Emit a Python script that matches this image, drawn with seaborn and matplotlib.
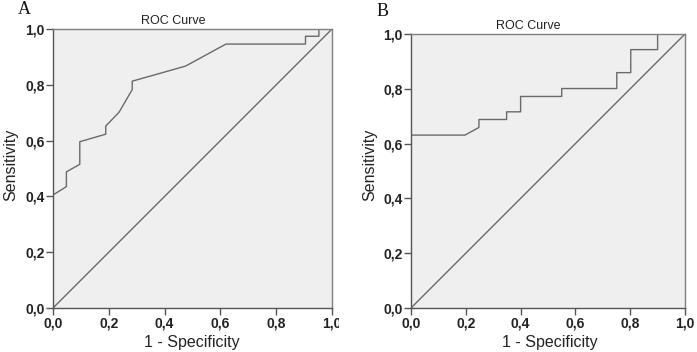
import matplotlib
matplotlib.use("Agg")
import matplotlib.pyplot as plt
import seaborn as sns
import pandas as pd
from matplotlib.patches import Rectangle

# Panel A ROC curve
a_fpr  = [0.0, 0.048, 0.048, 0.096, 0.096, 0.189, 0.189, 0.237, 0.284, 0.284, 0.475, 0.620, 0.905, 0.905, 0.953, 0.953, 1.0]
a_tpr  = [0.405, 0.435, 0.488, 0.515, 0.596, 0.623, 0.652, 0.702, 0.783, 0.813, 0.867, 0.946, 0.946, 0.974, 0.974, 1.0, 1.0]
# Panel B ROC curve
b_fpr  = [0.0, 0.197, 0.248, 0.248, 0.349, 0.349, 0.400, 0.400, 0.550, 0.550, 0.751, 0.751, 0.802, 0.802, 0.900, 0.900, 1.0]
b_tpr  = [0.631, 0.631, 0.659, 0.688, 0.688, 0.716, 0.716, 0.772, 0.772, 0.801, 0.801, 0.859, 0.859, 0.943, 0.943, 1.0, 1.0]
ref_x = [0.0, 1.0]
ref_y = [0.0, 1.0]
ticks = [0.0, 0.2, 0.4, 0.6, 0.8, 1.0]
tick_labels = ["0,0", "0,2", "0,4", "0,6", "0,8", "1,0"]
panel_letters = ["A", "B"]
title = "ROC Curve"
xlabel = "1 - Specificity"
ylabel = "Sensitivity"

sns.set_theme(style="white")
plt.rcParams['font.family'] = ['Liberation Sans', 'DejaVu Sans']

W, H = 697, 352
fig = plt.figure(figsize=(W / 100, H / 100), dpi=100)

def px_axes(l, r, t, b):
    return fig.add_axes([l / W, 1 - b / H, (r - l) / W, (b - t) / H])

axA = px_axes(53, 332, 29, 308)
axB = px_axes(411, 685, 34, 308)

line_col = "#6a6a6a"
for ax, fx, ty in [(axA, a_fpr, a_tpr), (axB, b_fpr, b_tpr)]:
    ax.set_facecolor("#efefef")
    df = pd.DataFrame({"fpr": fx, "tpr": ty})
    sns.lineplot(data=df, x="fpr", y="tpr", sort=False, estimator=None,
                 color=line_col, linewidth=1.0, ax=ax)
    dref = pd.DataFrame({"x": ref_x, "y": ref_y})
    sns.lineplot(data=dref, x="x", y="y", sort=False, estimator=None,
                 color=line_col, linewidth=1.0, ax=ax)
    ax.set_xlim(0, 1)
    ax.set_ylim(0, 1)
    ax.set_xticks(ticks)
    ax.set_yticks(ticks)
    ax.set_xticklabels(tick_labels, fontweight="bold", fontsize=10, color="#222222")
    ax.set_yticklabels(tick_labels, fontweight="bold", fontsize=10, color="#222222")
    ax.tick_params(axis="both", which="major", direction="out", length=5,
                   width=1.0, color="#555555", pad=1, bottom=True, left=True)
    ax.set_xlabel("")
    ax.set_ylabel("")
    for side in ["top", "right"]:
        ax.spines[side].set_color("#808080")
        ax.spines[side].set_linewidth(1.0)
    for side in ["left", "bottom"]:
        ax.spines[side].set_color("#555555")
        ax.spines[side].set_linewidth(1.0)

def ftext(x, y, s, **kw):
    return fig.text(x / W, 1 - y / H, s, **kw)

ftext(173, 21, title, ha="center", va="center", fontsize=9, color="#222222")
ftext(528, 26, title, ha="center", va="center", fontsize=9, color="#222222")
ftext(192, 343, xlabel, ha="center", va="center", fontsize=11.5, color="#222222")
ftext(550, 343, xlabel, ha="center", va="center", fontsize=11.5, color="#222222")
ftext(11, 165, ylabel, ha="center", va="center", rotation=90, fontsize=11.5, color="#222222")
ftext(370, 165, ylabel, ha="center", va="center", rotation=90, fontsize=11.5, color="#222222")
ftext(18, 10, panel_letters[0], ha="left", va="center", fontsize=13,
      family=["Liberation Serif", "DejaVu Serif"], color="#111111")
ftext(377, 12, panel_letters[1], ha="left", va="center", fontsize=13,
      family=["Liberation Serif", "DejaVu Serif"], color="#111111")

# mask that cuts panel A's last x tick label as in the reference
mask = Rectangle((338.5 / W, 1 - 328 / H), 12 / W, 16 / H,
                 transform=fig.transFigure, facecolor="white",
                 edgecolor="none", zorder=10)
fig.add_artist(mask)

fig.savefig("out.png", dpi=100)
